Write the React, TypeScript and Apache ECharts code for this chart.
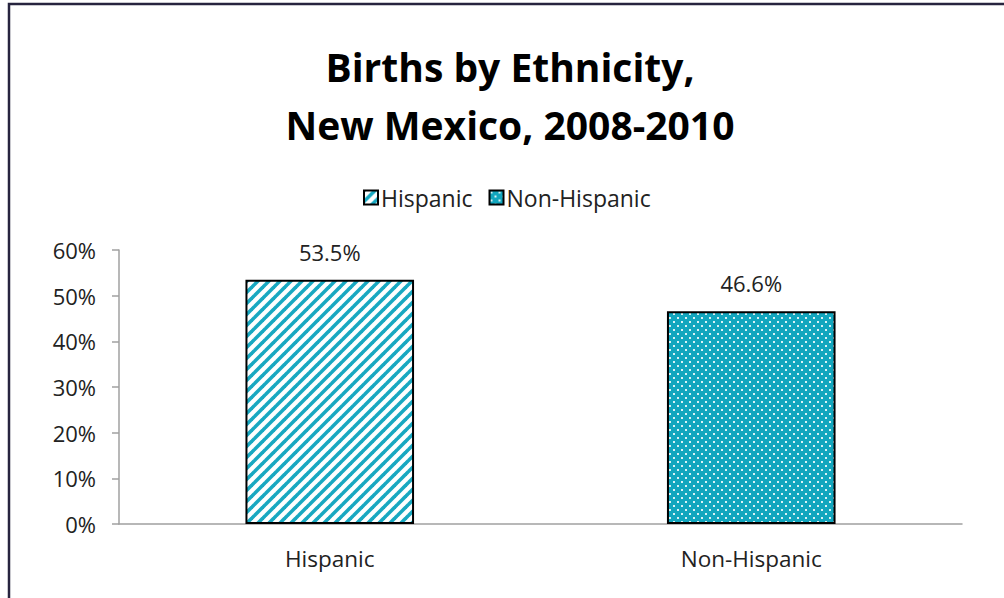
import React, { useEffect, useRef } from "react";
import * as echarts from "echarts";

const categories = ["Hispanic", "Non-Hispanic"];
const seriesNames = ["Hispanic", "Non-Hispanic"];
const hispanicValues = [53.5, null];
const nonHispanicValues = [null, 46.6];
const yTicks = [0, 10, 20, 30, 40, 50, 60];

const TEAL = "#18a8c1";

function stripePattern(): HTMLCanvasElement {
  const n = 11;
  const c = document.createElement("canvas");
  c.width = n;
  c.height = n;
  const ctx = c.getContext("2d")!;
  ctx.fillStyle = "#ffffff";
  ctx.fillRect(0, 0, n, n);
  ctx.strokeStyle = TEAL;
  ctx.lineWidth = 3.6;
  for (const off of [-n, 0, n]) {
    ctx.beginPath();
    ctx.moveTo(off - 1, n + 1);
    ctx.lineTo(off + n + 1, -1);
    ctx.stroke();
  }
  return c;
}

function dotPattern(): HTMLCanvasElement {
  const n = 8;
  const c = document.createElement("canvas");
  c.width = n;
  c.height = n;
  const ctx = c.getContext("2d")!;
  ctx.fillStyle = "#12a6be";
  ctx.fillRect(0, 0, n, n);
  ctx.fillStyle = "rgba(255,255,255,0.85)";
  ctx.fillRect(1, 1, 2, 2);
  ctx.fillRect(5, 5, 2, 2);
  return c;
}

export default function App() {
  const ref = useRef<HTMLDivElement>(null);
  useEffect(() => {
    document.body.style.margin = "0";
    const chart = echarts.init(ref.current!, null, { renderer: "svg" });
    const font = "'Open Sans', Lato, sans-serif";
    const stripe = { image: stripePattern(), repeat: "repeat" } as any;
    const dots = { image: dotPattern(), repeat: "repeat" } as any;
    const label = {
      show: true,
      position: "top",
      distance: 17,
      fontSize: 22,
      fontFamily: font,
      color: "#222",
      formatter: (p: any) => p.value.toFixed(1) + "%",
    };
    chart.setOption({
      animation: false,
      backgroundColor: "#ffffff",
      title: {
        text: "Births by Ethnicity,\nNew Mexico, 2008-2010",
        left: 505,
        textAlign: "center",
        top: 32,
        textStyle: {
          fontFamily: font,
          fontWeight: "bold",
          fontSize: 39,
          lineHeight: 58,
          color: "#000",
        },
      },
      legend: {
        top: 181,
        left: 358,
        itemWidth: 14,
        itemHeight: 14,
        itemGap: 16,
        icon: "rect",
        textStyle: { fontFamily: font, fontSize: 23, color: "#222", padding: [0, 0, 0, -2] },
        data: seriesNames,
      },
      grid: { left: 119, right: 42, top: 250, bottom: 74 },
      xAxis: {
        type: "category",
        data: categories,
        axisLine: { lineStyle: { color: "#a0a0a0", width: 1.5 } },
        axisTick: { show: false },
        axisLabel: { fontFamily: font, fontSize: 22.5, color: "#222", margin: 23 },
      },
      yAxis: {
        type: "value",
        min: yTicks[0],
        max: yTicks[yTicks.length - 1],
        interval: 10,
        axisLine: { show: true, lineStyle: { color: "#a0a0a0", width: 1.5 } },
        axisTick: { show: true, length: 7, lineStyle: { color: "#a0a0a0", width: 1.5 } },
        splitLine: { show: false },
        axisLabel: {
          fontFamily: font,
          fontSize: 22,
          color: "#222",
          margin: 23,
          formatter: "{value}%",
        },
      },
      graphic: [
        {
          type: "rect",
          shape: { x: 9, y: 4, width: 1100, height: 700 },
          style: { fill: "none", stroke: "#27243f", lineWidth: 2.5 },
          silent: true,
          z: 100,
        },
      ],
      series: [
        {
          name: seriesNames[0],
          type: "bar",
          data: hispanicValues,
          barWidth: "40%",
          barGap: "-100%",
          itemStyle: { color: stripe, borderColor: "#000", borderWidth: 2 },
          label,
        },
        {
          name: seriesNames[1],
          type: "bar",
          data: nonHispanicValues,
          barWidth: "40%",
          barGap: "-100%",
          itemStyle: { color: dots, borderColor: "#000", borderWidth: 2 },
          label,
        },
      ],
    });
    return () => chart.dispose();
  }, []);
  return <div ref={ref} style={{ width: 1004, height: 598 }} />;
}
